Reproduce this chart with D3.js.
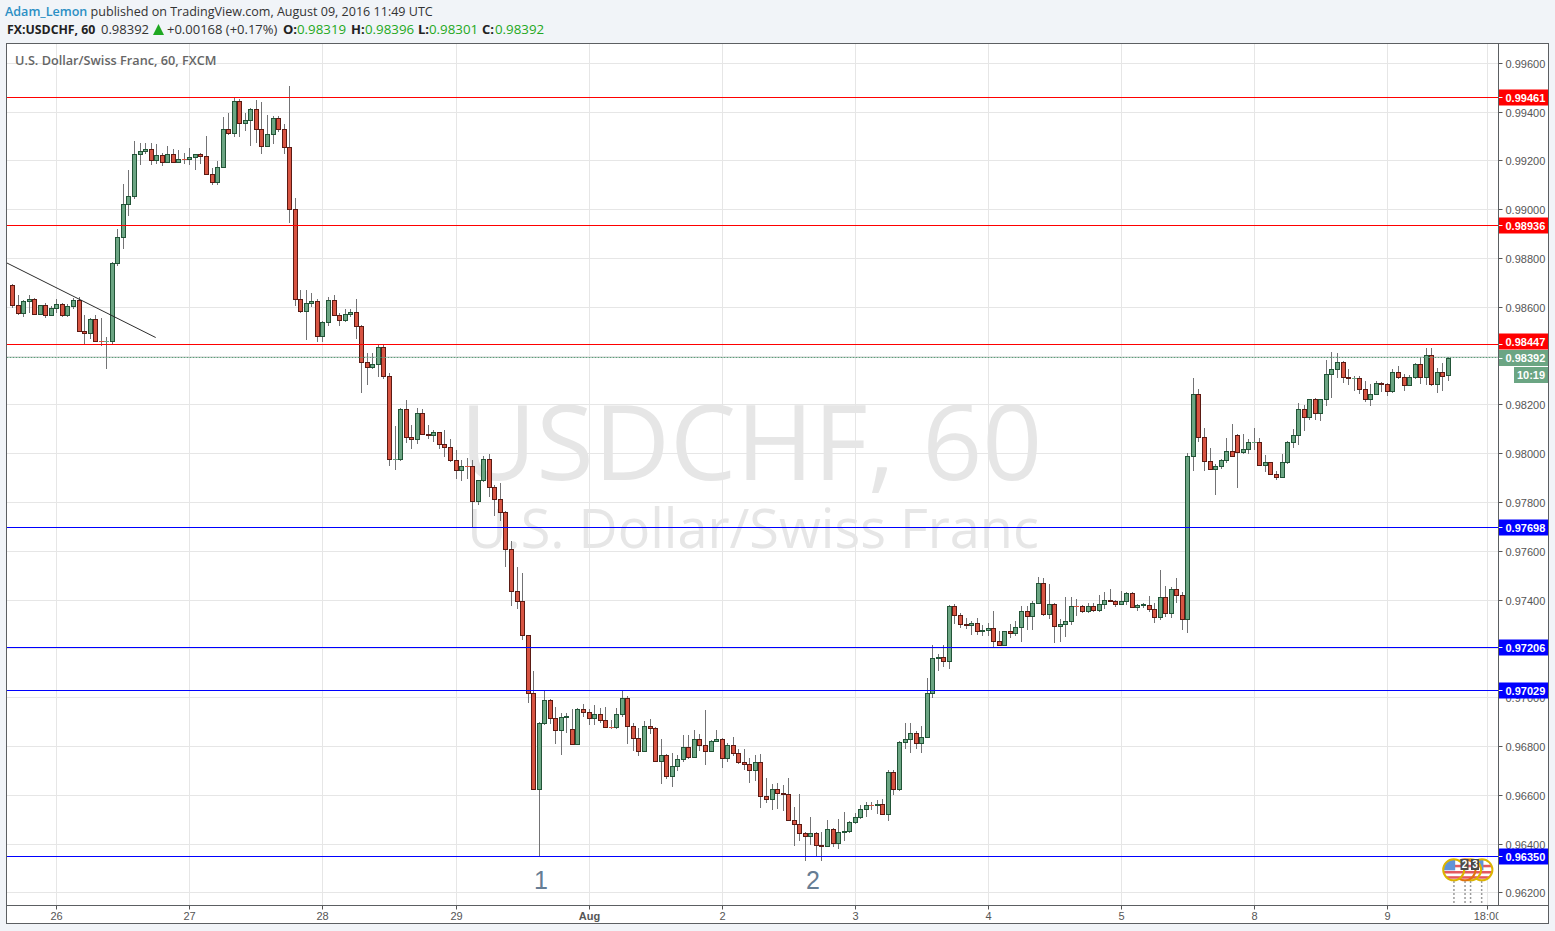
<!DOCTYPE html>
<html>
<head>
<meta charset="utf-8">
<title>USDCHF, 60</title>
<script src="https://cdn.jsdelivr.net/npm/d3@7"></script>
<style>
  html, body { margin: 0; padding: 0; background: #f1f4f8; overflow: hidden; }
  svg { display: block; }
  text { font-family: "Liberation Sans", Arial, sans-serif; }
  .head { font-family: "Open Sans", sans-serif; font-size: 12.55px; fill: #333; }
</style>
</head>
<body>
<svg id="chart" width="1555" height="931"></svg>
<script>
// hourly candles
const opens = [
0.98689,0.98607,0.98576,0.98624,0.98633,0.98572,0.98607,0.98568,0.98596,0.98613,
0.98566,0.98603,0.98629,0.98502,0.98494,0.98551,0.98461,0.98460,0.98461,0.98781,
0.98887,0.99022,0.99054,0.99227,0.99240,0.99248,0.99203,0.99223,0.99193,0.99227,
0.99193,0.99207,0.99207,0.99214,0.99227,0.99219,0.99145,0.99113,0.99174,0.99330,
0.99313,0.99445,0.99354,0.99367,0.99412,0.99330,0.99260,0.99309,0.99375,0.99330,
0.99256,0.99002,0.98633,0.98584,0.98617,0.98625,0.98482,0.98539,0.98629,0.98568,
0.98547,0.98572,0.98580,0.98523,0.98375,0.98355,0.98367,0.98437,0.98318,0.97974,
0.97975,0.98183,0.98068,0.98060,0.98166,0.98080,0.98075,0.98085,0.98039,0.98027,
0.97970,0.97929,0.97949,0.97948,0.97802,0.97888,0.97978,0.97863,0.97814,0.97757,
0.97609,0.97433,0.97392,0.97253,0.97018,0.96625,0.96895,0.96990,0.96916,0.96867,
0.96920,0.96871,0.96809,0.96953,0.96940,0.96916,0.96932,0.96908,0.96879,0.96878,
0.96932,0.96998,0.96883,0.96834,0.96781,0.96883,0.96875,0.96740,0.96764,0.96678,
0.96719,0.96748,0.96797,0.96756,0.96830,0.96805,0.96781,0.96822,0.96830,0.96752,
0.96805,0.96772,0.96736,0.96727,0.96703,0.96736,0.96596,0.96584,0.96625,0.96609,
0.96604,0.96498,0.96482,0.96445,0.96431,0.96445,0.96395,0.96391,0.96461,0.96404,
0.96449,0.96453,0.96490,0.96510,0.96543,0.96559,0.96559,0.96563,0.96522,0.96695,
0.96625,0.96818,0.96830,0.96851,0.96810,0.96838,0.97015,0.97162,0.97165,0.97150,
0.97375,0.97338,0.97301,0.97297,0.97305,0.97273,0.97277,0.97285,0.97232,0.97215,
0.97269,0.97264,0.97289,0.97351,0.97334,0.97387,0.97469,0.97342,0.97383,0.97293,
0.97301,0.97310,0.97375,0.97375,0.97351,0.97375,0.97359,0.97383,0.97400,0.97396,
0.97383,0.97396,0.97428,0.97371,0.97379,0.97379,0.97363,0.97330,0.97412,0.97346,
0.97445,0.97420,0.97322,0.97990,0.98244,0.98068,0.97966,0.97937,0.97949,0.97970,
0.98007,0.98076,0.98003,0.98019,0.98044,0.98044,0.97953,0.97962,0.97916,0.97904,
0.97962,0.98044,0.98076,0.98179,0.98150,0.98220,0.98166,0.98220,0.98326,0.98343,
0.98375,0.98314,0.98306,0.98306,0.98265,0.98224,0.98244,0.98289,0.98285,0.98253,
0.98334,0.98314,0.98281,0.98314,0.98367,0.98314,0.98404,0.98285,0.98334,0.98319];
const closes = [
0.98609,0.98576,0.98624,0.98633,0.98572,0.98607,0.98568,0.98596,0.98613,0.98568,
0.98603,0.98629,0.98502,0.98494,0.98551,0.98461,0.98460,0.98461,0.98781,0.98887,
0.99022,0.99054,0.99227,0.99240,0.99248,0.99203,0.99223,0.99193,0.99227,0.99193,
0.99207,0.99206,0.99214,0.99227,0.99219,0.99145,0.99113,0.99174,0.99330,0.99313,
0.99445,0.99354,0.99367,0.99412,0.99330,0.99260,0.99309,0.99375,0.99330,0.99256,
0.99002,0.98633,0.98584,0.98617,0.98625,0.98482,0.98539,0.98629,0.98568,0.98547,
0.98572,0.98580,0.98523,0.98375,0.98355,0.98367,0.98437,0.98318,0.97974,0.97975,
0.98183,0.98068,0.98060,0.98166,0.98080,0.98076,0.98085,0.98039,0.98027,0.97970,
0.97929,0.97949,0.97948,0.97802,0.97888,0.97978,0.97863,0.97814,0.97757,0.97609,
0.97433,0.97392,0.97253,0.97018,0.96625,0.96895,0.96990,0.96916,0.96867,0.96920,
0.96921,0.96809,0.96953,0.96940,0.96916,0.96932,0.96908,0.96879,0.96878,0.96932,
0.96998,0.96883,0.96834,0.96781,0.96883,0.96875,0.96740,0.96764,0.96678,0.96719,
0.96748,0.96797,0.96756,0.96830,0.96805,0.96781,0.96822,0.96830,0.96752,0.96805,
0.96772,0.96736,0.96727,0.96703,0.96736,0.96596,0.96584,0.96625,0.96609,0.96604,
0.96498,0.96482,0.96445,0.96431,0.96445,0.96395,0.96391,0.96461,0.96404,0.96449,
0.96453,0.96490,0.96510,0.96543,0.96559,0.96558,0.96563,0.96522,0.96695,0.96625,
0.96818,0.96830,0.96851,0.96810,0.96838,0.97015,0.97162,0.97165,0.97150,0.97375,
0.97338,0.97301,0.97297,0.97305,0.97273,0.97277,0.97285,0.97232,0.97215,0.97269,
0.97264,0.97289,0.97351,0.97334,0.97387,0.97469,0.97342,0.97383,0.97293,0.97301,
0.97310,0.97375,0.97374,0.97351,0.97375,0.97359,0.97383,0.97400,0.97396,0.97383,
0.97396,0.97428,0.97371,0.97379,0.97380,0.97363,0.97330,0.97412,0.97346,0.97445,
0.97420,0.97322,0.97990,0.98244,0.98068,0.97966,0.97937,0.97949,0.97970,0.98007,
0.97990,0.98003,0.98019,0.98044,0.98045,0.97953,0.97962,0.97916,0.97904,0.97962,
0.98044,0.98076,0.98179,0.98150,0.98220,0.98166,0.98220,0.98326,0.98343,0.98375,
0.98314,0.98306,0.98307,0.98265,0.98224,0.98244,0.98289,0.98285,0.98253,0.98334,
0.98314,0.98281,0.98314,0.98367,0.98314,0.98404,0.98285,0.98334,0.98318,0.98392];
const highs = [
0.98695,0.98647,0.98628,0.98647,0.98637,0.98607,0.98617,0.98603,0.98633,0.98617,
0.98613,0.98637,0.98641,0.98565,0.98555,0.98568,0.98555,0.98477,0.98783,0.98917,
0.99102,0.99159,0.99278,0.99270,0.99270,0.99270,0.99266,0.99231,0.99257,0.99245,
0.99244,0.99231,0.99252,0.99228,0.99231,0.99298,0.99170,0.99196,0.99376,0.99393,
0.99461,0.99450,0.99393,0.99416,0.99446,0.99438,0.99384,0.99383,0.99383,0.99348,
0.99504,0.99044,0.98667,0.98667,0.98658,0.98633,0.98540,0.98641,0.98647,0.98573,
0.98589,0.98589,0.98630,0.98525,0.98412,0.98410,0.98442,0.98449,0.98328,0.98110,
0.98187,0.98217,0.98115,0.98187,0.98180,0.98115,0.98093,0.98086,0.98094,0.98057,
0.98012,0.97971,0.97979,0.97971,0.97889,0.97988,0.97996,0.97869,0.97877,0.97764,
0.97639,0.97533,0.97508,0.97255,0.97106,0.96897,0.97031,0.96992,0.96961,0.96934,
0.96934,0.96950,0.96957,0.96971,0.96953,0.96966,0.96957,0.96961,0.96908,0.96957,
0.97031,0.97005,0.96895,0.96875,0.96904,0.96912,0.96876,0.96830,0.96766,0.96772,
0.96762,0.96844,0.96846,0.96864,0.96848,0.96946,0.96826,0.96864,0.96832,0.96813,
0.96838,0.96789,0.96786,0.96752,0.96762,0.96766,0.96667,0.96645,0.96650,0.96639,
0.96667,0.96548,0.96602,0.96446,0.96507,0.96446,0.96449,0.96495,0.96462,0.96499,
0.96528,0.96494,0.96527,0.96559,0.96572,0.96572,0.96580,0.96581,0.96703,0.96703,
0.96820,0.96895,0.96893,0.96863,0.96881,0.97077,0.97213,0.97176,0.97213,0.97376,
0.97383,0.97346,0.97323,0.97312,0.97323,0.97297,0.97303,0.97352,0.97270,0.97273,
0.97301,0.97311,0.97372,0.97372,0.97393,0.97494,0.97487,0.97463,0.97384,0.97322,
0.97409,0.97409,0.97401,0.97376,0.97385,0.97385,0.97417,0.97430,0.97442,0.97397,
0.97434,0.97429,0.97432,0.97380,0.97387,0.97413,0.97385,0.97520,0.97454,0.97450,
0.97487,0.97430,0.98002,0.98306,0.98262,0.98105,0.98020,0.97955,0.97978,0.98061,
0.98119,0.98080,0.98080,0.98056,0.98102,0.98061,0.97992,0.97963,0.97926,0.97996,
0.98049,0.98098,0.98205,0.98197,0.98224,0.98228,0.98224,0.98381,0.98414,0.98410,
0.98377,0.98344,0.98315,0.98315,0.98295,0.98283,0.98295,0.98290,0.98286,0.98344,
0.98356,0.98324,0.98319,0.98368,0.98396,0.98433,0.98433,0.98348,0.98369,0.98396];
const lows = [
0.98600,0.98572,0.98562,0.98579,0.98572,0.98569,0.98559,0.98566,0.98579,0.98562,
0.98562,0.98596,0.98500,0.98453,0.98473,0.98459,0.98443,0.98349,0.98446,0.98771,
0.98841,0.98975,0.99046,0.99185,0.99231,0.99185,0.99188,0.99180,0.99192,0.99192,
0.99192,0.99190,0.99185,0.99163,0.99188,0.99144,0.99103,0.99103,0.99173,0.99307,
0.99300,0.99300,0.99323,0.99263,0.99275,0.99230,0.99259,0.99270,0.99319,0.99230,
0.98947,0.98607,0.98579,0.98468,0.98603,0.98460,0.98460,0.98525,0.98567,0.98525,
0.98540,0.98562,0.98472,0.98251,0.98283,0.98348,0.98317,0.98309,0.97951,0.97934,
0.97973,0.98046,0.98022,0.98041,0.98079,0.98063,0.98050,0.98022,0.97989,0.97969,
0.97899,0.97891,0.97899,0.97699,0.97792,0.97885,0.97825,0.97747,0.97727,0.97538,
0.97378,0.97365,0.97237,0.96980,0.96624,0.96352,0.96889,0.96894,0.96812,0.96767,
0.96857,0.96808,0.96808,0.96923,0.96889,0.96889,0.96898,0.96878,0.96875,0.96874,
0.96923,0.96812,0.96782,0.96762,0.96780,0.96854,0.96738,0.96648,0.96669,0.96636,
0.96703,0.96740,0.96752,0.96755,0.96782,0.96726,0.96780,0.96821,0.96714,0.96738,
0.96763,0.96731,0.96707,0.96654,0.96662,0.96550,0.96572,0.96543,0.96547,0.96538,
0.96497,0.96394,0.96416,0.96333,0.96398,0.96349,0.96334,0.96390,0.96390,0.96382,
0.96415,0.96447,0.96486,0.96506,0.96512,0.96543,0.96524,0.96521,0.96497,0.96603,
0.96621,0.96790,0.96775,0.96790,0.96775,0.96837,0.97001,0.97110,0.97127,0.97120,
0.97303,0.97286,0.97282,0.97258,0.97258,0.97254,0.97254,0.97208,0.97213,0.97214,
0.97245,0.97256,0.97229,0.97278,0.97278,0.97386,0.97336,0.97323,0.97226,0.97229,
0.97249,0.97300,0.97337,0.97350,0.97350,0.97352,0.97351,0.97364,0.97395,0.97374,
0.97382,0.97381,0.97370,0.97359,0.97371,0.97351,0.97308,0.97322,0.97333,0.97329,
0.97390,0.97281,0.97267,0.97932,0.98048,0.97932,0.97936,0.97833,0.97938,0.97964,
0.97989,0.97862,0.98002,0.98001,0.98018,0.97952,0.97927,0.97915,0.97895,0.97903,
0.97961,0.98027,0.98037,0.98094,0.98142,0.98139,0.98136,0.98199,0.98231,0.98314,
0.98291,0.98283,0.98257,0.98247,0.98213,0.98198,0.98243,0.98255,0.98239,0.98252,
0.98306,0.98259,0.98280,0.98307,0.98287,0.98285,0.98278,0.98251,0.98258,0.98301];

// axes
const priceTicks = [0.962,0.964,0.966,0.968,0.970,0.972,0.974,0.976,0.978,0.980,0.982,0.984,0.986,0.988,0.990,0.992,0.994,0.996];
const dayTicks = [8,32,56,80,104,128,152,176,200,224,248,266];
const dayLabels = ["26","27","28","29","Aug","2","3","4","5","8","9","18:00"];

// horizontal lines the author drew
const levelPrices = [0.99461,0.98936,0.98447,0.97698,0.97206,0.97029,0.96350];
const levelColors = ["#ff0000","#ff0000","#ff0000","#0000ff","#0000ff","#0000ff","#0000ff"];
const lastPrice = 0.98392;
const countdown = "10:19";

// trend line end points: candle index, price
const trendIdx = [-1.05, 25.83];
const trendPrice = [0.98782, 0.98476];

// the 1 and 2 notes
const noteIdx = [95.3, 144.4];
const noteText = ["1", "2"];

// news events under the last bars
const eventIdx = [265, 263, 262, 260];
const eventRing = ["#dcb400", "#dcb400", "#e0730c", "#dcb400"];
const eventBadge = ["", "3", "2", ""];

const paneL = 6.5, paneT = 43.5, paneR = 1548.5, paneB = 923.5;
const axisX = 1498.5, axisY = 905.5;

const svg = d3.select("#chart");

const x = d3.scaleLinear().domain([0, 259]).range([12.5, 1448.4]);
const y = d3.scaleLinear().domain([0.962, 0.996]).range([892.8, 63.3]);
const snap = v => Math.floor(v) + 0.5;

const defs = svg.append("defs");
defs.append("clipPath").attr("id", "pane").append("rect")
  .attr("x", paneL).attr("y", paneT).attr("width", axisX - paneL).attr("height", axisY - paneT);
defs.append("clipPath").attr("id", "flagClip").append("circle").attr("r", 10.5);

// white chart area
svg.append("rect").attr("x", paneL).attr("y", paneT)
  .attr("width", paneR - paneL).attr("height", paneB - paneT).attr("fill", "#fff");

// header
const head1 = svg.append("text").attr("class", "head").attr("x", 5).attr("y", 16);
head1.append("tspan").attr("font-weight", 600).style("fill", "#2b8fc4").text("Adam_Lemon");
head1.append("tspan").text(" published on TradingView.com, August 09, 2016 11:49 UTC");

const head2 = svg.append("g");
const up = "#1fa822";
const headBits = [
  { t: "FX:USDCHF, 60", x: 7, w: 700, c: "#222", s: 12.3 },
  { t: "0.98392", x: 101, w: 400, c: "#333", s: 13 },
  { t: "+0.00168 (+0.17%)", x: 167, w: 400, c: "#333", s: 13 },
  { t: "O:", x: 283, w: 700, c: "#222", s: 13 },
  { t: "0.98319", x: 297, w: 400, c: up, s: 13.3 },
  { t: "H:", x: 351, w: 700, c: "#222", s: 13 },
  { t: "0.98396", x: 365, w: 400, c: up, s: 13.3 },
  { t: "L:", x: 418, w: 700, c: "#222", s: 13 },
  { t: "0.98301", x: 429, w: 400, c: up, s: 13.3 },
  { t: "C:", x: 482, w: 700, c: "#222", s: 13 },
  { t: "0.98392", x: 495, w: 400, c: up, s: 13.3 }
];
head2.selectAll("text").data(headBits).join("text")
  .attr("class", "head").attr("x", d => d.x).attr("y", 34)
  .attr("font-weight", d => d.w).style("font-size", d => d.s + "px").style("fill", d => d.c).text(d => d.t);
head2.append("path").attr("d", "M153 35L164 35L158.5 24Z").attr("fill", up);

// watermark
svg.append("text").attr("x", 751).attr("y", 480).attr("text-anchor", "middle")
  .style("font-family", "'Open Sans', sans-serif")
  .attr("font-size", 105).attr("fill", "#e6e6e6").text("USDCHF, 60");
svg.append("text").attr("x", 753).attr("y", 548).attr("text-anchor", "middle")
  .style("font-family", "'Open Sans', sans-serif")
  .attr("font-size", 54).attr("fill", "#e6e6e6").text("U.S. Dollar/Swiss Franc");

// grid
const grid = svg.append("g").attr("clip-path", "url(#pane)").attr("stroke", "#e6e6e6").attr("stroke-width", 1);
grid.selectAll("line.h").data(priceTicks).join("line").attr("class", "h")
  .attr("x1", paneL).attr("x2", axisX).attr("y1", d => snap(y(d))).attr("y2", d => snap(y(d)));
grid.selectAll("line.v").data(dayTicks).join("line").attr("class", "v")
  .attr("x1", d => snap(x(d))).attr("x2", d => snap(x(d))).attr("y1", paneT).attr("y2", axisY);

svg.append("text").attr("x", 15).attr("y", 65).attr("font-size", 12.7).attr("font-weight", 600)
  .style("font-family", "'Open Sans', sans-serif").attr("fill", "#666")
  .text("U.S. Dollar/Swiss Franc, 60, FXCM");

// candles
const candles = d3.range(opens.length).map(i => ({ i, o: opens[i], h: highs[i], l: lows[i], c: closes[i] }));
const plot = svg.append("g").attr("clip-path", "url(#pane)");

plot.append("g").selectAll("line").data(candles).join("line")
  .attr("x1", d => snap(x(d.i))).attr("x2", d => snap(x(d.i)))
  .attr("y1", d => Math.floor(y(d.h))).attr("y2", d => Math.floor(y(d.l)) + 1)
  .attr("stroke", "#737375");

const bodies = plot.append("g");
candles.forEach(d => {
  const rising = d.c >= d.o;
  const t = snap(y(Math.max(d.o, d.c)));
  const b = snap(y(Math.min(d.o, d.c)));
  const cx = snap(x(d.i));
  if (t === b) {
    // open and close on the same pixel row, only a short flat mark
    bodies.append("line").attr("x1", cx - 2.5).attr("x2", cx + 2.5).attr("y1", t).attr("y2", t)
      .attr("stroke", rising ? "#6ba583" : "#d75442");
  } else {
    bodies.append("rect").attr("x", cx - 2).attr("y", t).attr("width", 4).attr("height", b - t)
      .attr("fill", rising ? "#6ba583" : "#d75442")
      .attr("stroke", rising ? "#225437" : "#5b1a13");
  }
});

// trend line
plot.append("line")
  .attr("x1", x(trendIdx[0])).attr("y1", y(trendPrice[0]))
  .attr("x2", x(trendIdx[1])).attr("y2", y(trendPrice[1]))
  .attr("stroke", "#2b2b2b").attr("stroke-width", 1);

// last price dashes, one row above the scale position in the original
const lastY = snap(y(lastPrice) - 0.6);
plot.append("line").attr("x1", paneL).attr("x2", axisX)
  .attr("y1", lastY).attr("y2", lastY)
  .attr("stroke", "#5f9a7a").attr("stroke-dasharray", "2 1");

// level lines
plot.selectAll("line.level").data(levelPrices).join("line").attr("class", "level")
  .attr("x1", paneL).attr("x2", axisX)
  .attr("y1", d => snap(y(d))).attr("y2", d => snap(y(d)))
  .attr("stroke", (d, i) => levelColors[i]);

// notes
svg.selectAll("text.note").data(noteIdx).join("text").attr("class", "note")
  .attr("x", d => x(d)).attr("y", 889).attr("text-anchor", "middle")
  .attr("font-size", 25).attr("fill", "#667d94")
  .text((d, i) => noteText[i]);

// event flags, drawn from the right so the left one is on top
const ev = svg.append("g");
eventIdx.forEach(idx => {
  const ex = x(idx);
  ev.append("line").attr("x1", ex).attr("x2", ex).attr("y1", 881).attr("y2", 904)
    .attr("stroke", "#9a9a9a").attr("stroke-width", 1.5).attr("stroke-dasharray", "2 2");
});
eventIdx.forEach((idx, k) => {
  const g = ev.append("g").attr("transform", `translate(${x(idx) + (idx - 262.5) * 0.1},869.8)`);
  const f = g.append("g").attr("clip-path", "url(#flagClip)");
  f.append("rect").attr("x", -11).attr("y", -11).attr("width", 22).attr("height", 22).attr("fill", "#fff");
  [-5, 1.2, 6.4].forEach(s => f.append("rect").attr("x", -11).attr("y", s).attr("width", 22).attr("height", 2.5).attr("fill", "#e4585f"));
  f.append("rect").attr("x", -11).attr("y", -11).attr("width", 12.5).attr("height", 11.5).attr("fill", "#5f93d8");
  g.append("circle").attr("r", 10.5).attr("fill", "none").attr("stroke", eventRing[k]).attr("stroke-width", 2);
});
eventIdx.forEach((idx, k) => {
  if (!eventBadge[k]) return;
  const bx = x(idx) + (eventBadge[k] === "3" ? 4.4 : -0.5);
  ev.append("rect").attr("x", bx - 4).attr("y", 859).attr("width", 8).attr("height", 11).attr("fill", "#4a4a4a");
  ev.append("text").attr("x", bx).attr("y", 868).attr("text-anchor", "middle")
    .attr("font-size", 10).attr("font-weight", 700).attr("fill", "#fff").text(eventBadge[k]);
});

// price axis
const yAxis = d3.axisRight(y).tickValues(priceTicks).tickFormat(d3.format(".5f")).tickSize(4).tickPadding(3);
const yG = svg.append("g").attr("transform", `translate(${axisX},0)`).call(yAxis);
yG.select(".domain").remove();
yG.selectAll(".tick").attr("transform", d => `translate(0,${snap(y(d))})`);
yG.selectAll(".tick line").attr("stroke", "#555");
yG.selectAll(".tick text").attr("font-size", 11).attr("fill", "#555").attr("dy", "0.42em")
  .style("font-family", "'Liberation Sans', Arial, sans-serif");

// time axis
const xAxis = d3.axisBottom(x).tickValues(dayTicks).tickFormat((d, i) => dayLabels[i]).tickSize(4).tickPadding(3);
const xG = svg.append("g").attr("transform", `translate(0,${axisY})`).call(xAxis);
xG.select(".domain").remove();
xG.selectAll(".tick").attr("transform", d => `translate(${snap(x(d))},0)`);
xG.selectAll(".tick line").attr("stroke", "#555");
xG.selectAll(".tick text").attr("font-size", 11).attr("fill", "#555")
  .attr("font-weight", (d, i) => dayLabels[i] === "Aug" ? 700 : 400)
  .style("font-family", "'Liberation Sans', Arial, sans-serif");
defs.append("clipPath").attr("id", "lastTick").append("rect")
  .attr("x", -20).attr("y", 0).attr("width", axisX - snap(x(266)) + 20).attr("height", 20);
xG.selectAll(".tick").filter((d, i) => dayLabels[i] === "18:00").attr("clip-path", "url(#lastTick)");

// price labels on the axis
const tagH = 16;
const tags = levelPrices.map((p, i) => ({ p, c: levelColors[i], yc: snap(y(p)) }));
tags.forEach(t => { if (t.p === 0.98447) t.yc = 341.5; });
tags.push({ p: lastPrice, c: "#6ba583", yc: 358 });
const tagG = svg.append("g");
tagG.selectAll("rect").data(tags).join("rect")
  .attr("x", axisX).attr("y", d => d.yc - tagH / 2).attr("width", paneR - axisX).attr("height", tagH)
  .attr("fill", d => d.c);
tagG.selectAll("line").data(tags).join("line")
  .attr("x1", axisX).attr("x2", axisX + 4).attr("y1", d => snap(y(d.p))).attr("y2", d => snap(y(d.p)))
  .attr("stroke", "#fff");
tagG.selectAll("text").data(tags).join("text")
  .attr("x", 1505.5).attr("y", d => d.yc + 4)
  .attr("font-size", 11).attr("font-weight", 700).attr("fill", "#fff")
  .text(d => d3.format(".5f")(d.p));

// countdown box
svg.append("rect").attr("x", 1514).attr("y", 367).attr("width", paneR - 1514).attr("height", 16).attr("fill", "#6ba583");
svg.append("text").attr("x", 1531).attr("y", 379).attr("text-anchor", "middle")
  .attr("font-size", 11).attr("font-weight", 700).attr("fill", "#fff").text(countdown);

// frame and axis lines on top
const frame = svg.append("g").attr("fill", "none").attr("stroke", "#5c5f62").attr("stroke-width", 1);
frame.append("rect").attr("x", paneL).attr("y", paneT).attr("width", paneR - paneL).attr("height", paneB - paneT);
frame.append("line").attr("x1", axisX).attr("x2", axisX).attr("y1", paneT).attr("y2", axisY);
frame.append("line").attr("x1", paneL).attr("x2", paneR).attr("y1", axisY).attr("y2", axisY);
</script>
</body>
</html>
